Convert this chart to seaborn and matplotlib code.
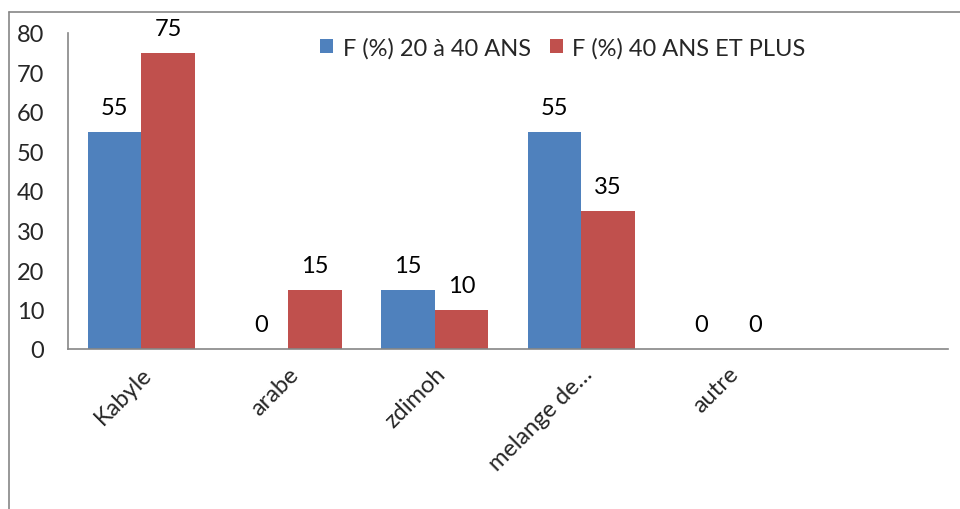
import matplotlib
matplotlib.use("Agg")
import matplotlib.pyplot as plt
from matplotlib.lines import Line2D
import pandas as pd
import seaborn as sns

categories = ["Kabyle", "arabe", "zdimoh", "melange de…", "autre"]
series_names = ["F (%) 20 à 40 ANS", "F (%) 40 ANS ET PLUS"]
young = [55, 0, 15, 55, 0]
older = [75, 15, 10, 35, 0]
y_ticks = [0, 10, 20, 30, 40, 50, 60, 70, 80]

BLUE = "#4F81BD"
RED = "#C0504D"
GRID_GRAY = "#868686"
FS = 17

sns.set_style("white")
plt.rcParams["font.family"] = ["Lato", "DejaVu Sans"]

df = pd.DataFrame({
    "categorie": categories * 2,
    "serie": [series_names[0]] * len(categories) + [series_names[1]] * len(categories),
    "valeur": young + older,
})

fig = plt.figure(figsize=(9.6, 5.1), dpi=100)
ax = fig.add_axes([68 / 960, 1 - 350 / 510, 880 / 960, 316 / 510])

sns.barplot(
    data=df, x="categorie", y="valeur", hue="serie", order=categories,
    hue_order=series_names, palette=[BLUE, RED], width=0.73,
    saturation=1, ax=ax, errorbar=None, linewidth=0,
)

for container in ax.containers:
    ax.bar_label(container, labels=[f"{v:g}" for v in container.datavalues],
                 padding=10, fontsize=FS, color="black")

ax.set_xlim(-0.5, 5.5)
ax.set_ylim(0, 80)
ax.set_yticks(y_ticks)
ax.set_yticklabels([str(t) for t in y_ticks], fontsize=FS)
ax.set_xlabel("")
ax.set_ylabel("")
ax.tick_params(axis="y", length=0, pad=17)
ax.tick_params(axis="x", length=0, pad=10)
for lbl in ax.get_xticklabels():
    lbl.set_rotation(45)
    lbl.set_ha("right")
    lbl.set_rotation_mode("anchor")
    lbl.set_fontsize(FS)

for side in ["top", "right"]:
    ax.spines[side].set_visible(False)
for side in ["left", "bottom"]:
    ax.spines[side].set_color(GRID_GRAY)
    ax.spines[side].set_linewidth(1.2)

leg = ax.legend(loc="upper center", bbox_to_anchor=(0.5625, 1.055), ncol=2,
                frameon=False, fontsize=FS, handlelength=0.55, handleheight=0.55,
                handletextpad=0.4, columnspacing=0.8)

# outer chart frame (cropped in the original)
fig.add_artist(Line2D([9 / 960, 1], [1 - 13 / 510] * 2, color=GRID_GRAY, lw=1.2))
fig.add_artist(Line2D([9 / 960] * 2, [0, 1 - 13 / 510], color=GRID_GRAY, lw=1.2))

fig.savefig("out.png", dpi=100)
